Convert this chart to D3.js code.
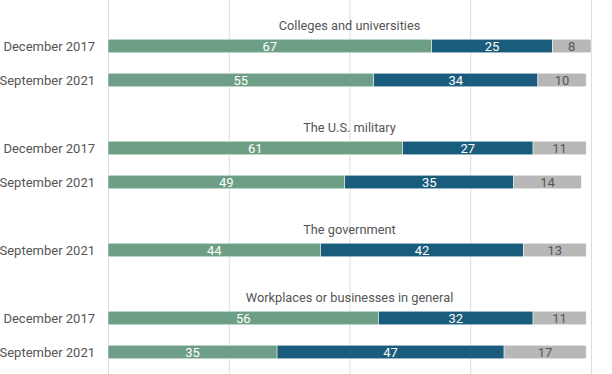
<!DOCTYPE html>
<html>
<head>
<meta charset="utf-8">
<script src="https://cdn.jsdelivr.net/npm/d3@7"></script>
<style>
    body { margin: 0; background: #fff; }
    svg { font-family: Roboto, sans-serif; }
    .grid line { stroke: #dcdcdc; stroke-width: 1; }
    .grid path { display: none; }
    .row-label { fill: #555; font-size: 13px; }
    .group-title { fill: #555; font-size: 12.8px; }
    .val { font-size: 13px; }
</style>
</head>
<body>
<div id="chart"></div>
<script>
// groups and the surveys shown for each
const groups = ["Colleges and universities", "The U.S. military", "The government", "Workplaces or businesses in general"]
const surveys = [
    ["December 2017", "September 2021"],
    ["December 2017", "September 2021"],
    ["September 2021"],
    ["December 2017", "September 2021"]
]
// series values, one per bar (in row order)
const positive = [67, 55, 61, 49, 44, 56, 35]
const negative = [25, 34, 27, 35, 42, 32, 47]
const noAnswer = [8, 10, 11, 14, 13, 11, 17]
const xTicks = [0, 25, 50, 75, 100]
const seriesColors = ["#6d9f86", "#1a5c7b", "#b7b7b7"]
const labelColors = ["#fff", "#fff", "#555"]

const W = 612, H = 374
const margin = { left: 108, right: 21 }

// build row list: a title slot then one slot per survey
const rows = []
let bi = 0
groups.forEach(function (g, gi) {
    rows.push({ key: 'title-' + gi, title: g })
    surveys[gi].forEach(function (s) {
        rows.push({ key: 'bar-' + bi, label: s, idx: bi, group: gi })
        bi++
    })
})

const svg = d3.select('#chart').append('svg')
    .attr('width', W)
    .attr('height', H)

const x = d3.scaleLinear()
    .domain([0, 100])
    .range([margin.left, W - margin.right])

const y = d3.scaleBand()
    .domain(rows.map((d) => d.key))
    .range([-5, 369])
    .paddingInner(0.6)
    .paddingOuter(0.3)

//Draw grid
svg.append('g')
    .attr('class', 'grid')
    .attr('transform', `translate(0,${H})`)
    .call(d3.axisBottom(x).tickValues(xTicks).tickSize(-H).tickFormat(''))
//End Draw grid

const barRows = rows.filter((d) => d.label)

const stacked = barRows.map(function (r) {
    const vals = [positive[r.idx], negative[r.idx], noAnswer[r.idx]]
    let start = 0
    return vals.map(function (v, k) {
        const seg = { row: r, k: k, v: v, x0: start, x1: start + v }
        start += v
        return seg
    })
}).flat()

svg.append('g').selectAll('rect')
    .data(stacked)
    .enter().append('rect')
    .attr('x', (d) => x(d.x0))
    .attr('y', (d) => y(d.row.key))
    .attr('width', (d) => x(d.x1) - x(d.x0))
    .attr('height', y.bandwidth())
    .attr('fill', (d) => seriesColors[d.k])
    .attr('stroke', '#fff')
    .attr('stroke-width', 0.5)

svg.append('g').selectAll('text')
    .data(stacked)
    .enter().append('text')
    .attr('class', 'val')
    .attr('x', (d) => (x(d.x0) + x(d.x1)) / 2)
    .attr('y', (d) => y(d.row.key) + y.bandwidth() / 2)
    .attr('dy', '0.36em')
    .attr('text-anchor', 'middle')
    .attr('fill', (d) => labelColors[d.k])
    .text((d) => d.v)

// row labels
svg.append('g').selectAll('text')
    .data(barRows)
    .enter().append('text')
    .attr('class', 'row-label')
    .attr('x', 95)
    .attr('y', (d) => y(d.key) + y.bandwidth() / 2)
    .attr('dy', '0.36em')
    .attr('text-anchor', 'end')
    .text((d) => d.label)

// group titles, placed just above the first bar of each group
const titleRows = rows.filter((d) => d.title)
svg.append('g').selectAll('text')
    .data(titleRows)
    .enter().append('text')
    .attr('class', 'group-title')
    .attr('x', (x(0) + x(100)) / 2)
    .attr('y', function (d) {
        const i = rows.indexOf(d)
        return y(rows[i + 1].key) - 9
    })
    .attr('text-anchor', 'middle')
    .text((d) => d.title)
</script>
</body>
</html>
